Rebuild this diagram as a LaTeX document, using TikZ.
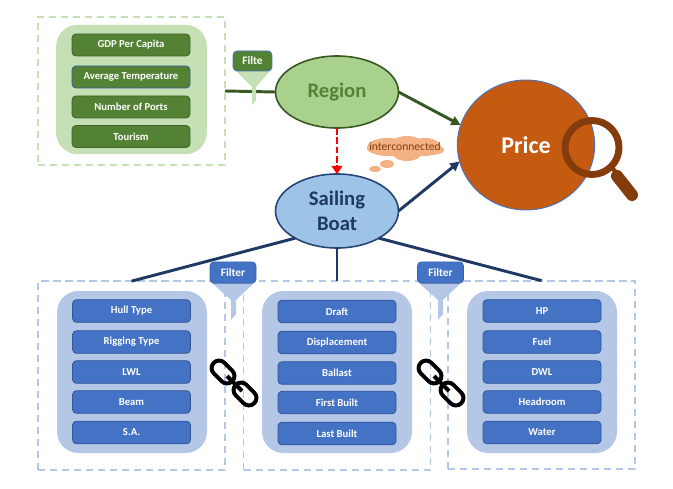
\documentclass[tikz,border=0pt]{standalone}
\usepackage{fontspec}
\setmainfont{Carlito}
\usetikzlibrary{shapes.geometric,shapes.symbols,arrows.meta}
\definecolor{gdark}{HTML}{548235}
\definecolor{gline}{HTML}{385723}
\definecolor{gpanel}{HTML}{C5E0B4}
\definecolor{gell}{HTML}{A9D18E}
\definecolor{bdark}{HTML}{4472C4}
\definecolor{bline}{HTML}{203864}
\definecolor{bpanel}{HTML}{B4C7E7}
\definecolor{bell}{HTML}{9DC3E6}
\definecolor{price}{HTML}{C55A11}
\definecolor{pdark}{HTML}{843C0C}
\definecolor{cloudc}{HTML}{F4B183}
\tikzset{
  x=0.75pt,y=-0.75pt,
  every node/.style={inner sep=0pt,outer sep=0pt,align=center},
  gbox/.style={draw=gpanel,line width=1.4pt,dash pattern=on 5.5pt off 3.5pt,minimum width=140.25pt,minimum height=111pt},
  bbox/.style={draw=bpanel,line width=1.4pt,dash pattern=on 5.5pt off 3.5pt,minimum width=140.25pt,minimum height=141.5pt},
  gpan/.style={fill=gpanel,rounded corners=16pt,minimum width=113pt,minimum height=97pt},
  bpan/.style={fill=bpanel,rounded corners=16pt,minimum width=112.5pt,minimum height=121.5pt},
  gitem/.style={fill=gdark,draw=gline!80!gdark,line width=.6pt,rounded corners=3pt,minimum width=88.5pt,minimum height=16.5pt,text=white,font=\bfseries\fontsize{8}{9}\selectfont},
  bitem/.style={fill=bdark,draw=bdark!75!black,line width=.6pt,rounded corners=3pt,minimum width=88.5pt,minimum height=17pt,text=white,font=\bfseries\fontsize{8}{9}\selectfont},
  gfilt/.style={fill=gdark,draw=bdark,line width=.7pt,rounded corners=3pt,minimum width=29pt,minimum height=15pt,text=white,font=\bfseries\fontsize{8.5}{9}\selectfont},
  bfilt/.style={fill=bdark,draw=bdark!85!black,line width=.5pt,rounded corners=3pt,minimum width=34.5pt,minimum height=16pt,text=white,font=\bfseries\fontsize{8.5}{9}\selectfont},
  gfun/.style={fill=gpanel,draw=none},
  bfun/.style={fill=bpanel,draw=none},
  ell/.style={ellipse,minimum width=92.25pt,line width=1.2pt},
  lnk/.style={draw=black,line width=3pt,rounded corners=5.5pt},
  gconn/.style={draw=gline,line width=2.2pt},
  bconn/.style={draw=bline,line width=2.2pt},
}
\begin{document}
\begin{tikzpicture}
\useasboundingbox (0,0) rectangle (673,488);
% dashed frames
\node[gbox] (gframe) at (131.5,91) {};
\node[bbox] (bframe1) at (131.5,375.5) {};
\node[bbox] (bframe2) at (337,375.5) {};
\node[bbox] (bframe3) at (541.5,375) {};
% panels
\node[gpan] (gpanel) at (131.5,89.5) {};
\node[bpan] (bpanel1) at (132,372) {};
\node[bpan] (bpanel2) at (337,372) {};
\node[bpan] (bpanel3) at (542,372) {};
% green items
\node[gitem] (g1) at (131,45) {GDP Per Capita};
\node[gitem,draw=bdark!80!black] (g2) at (131,77) {Average Temperature};
\node[gitem] (g3) at (131,107) {Number of Ports};
\node[gitem] (g4) at (131,136.5) {Tourism};
% blue items left
\node[bitem] (a1) at (131.5,311) {Hull Type};
\node[bitem] (a2) at (131.5,342) {Rigging Type};
\node[bitem] (a3) at (131.5,372) {LWL};
\node[bitem] (a4) at (131.5,402) {Beam};
\node[bitem] (a5) at (131.5,432.5) {S.A.};
% middle
\node[bitem] (b1) at (337,311.5) {Draft};
\node[bitem] (b2) at (337,342.5) {Displacement};
\node[bitem] (b3) at (337,373) {Ballast};
\node[bitem] (b4) at (337,402.5) {First Built};
\node[bitem] (b5) at (337,433.5) {Last Built};
% right
\node[bitem] (c1) at (542,311) {HP};
\node[bitem] (c2) at (542,342) {Fuel};
\node[bitem] (c3) at (542,372) {DWL};
\node[bitem] (c4) at (542,402) {Headroom};
\node[bitem] (c5) at (542,432.5) {Water};
% main ellipses
\node[ell,draw=gline,fill=gell,minimum height=54pt,text=gdark,font=\bfseries\fontsize{15.5}{18}\selectfont] (region) at (337,92) {\raisebox{-2.5pt}{Region}};
\node[ell,draw=bline!80!bdark,fill=bell,minimum height=55.5pt,text=bline,font=\bfseries\fontsize{15.5}{19}\selectfont] (boat) at (337,211) {Sailing\\Boat};
\node[ellipse,draw=bdark,line width=.7pt,fill=price,minimum width=103pt,minimum height=97.5pt,text=white,font=\bfseries\fontsize{18}{20}\selectfont] (price) at (526,145) {\raisebox{-1pt}{Price}};
% connectors
\draw[gconn] (gframe.east) -- (region.west);
\draw[gconn,-{Triangle[length=7pt,width=7pt]}] (region.east) -- (price.163);
\draw[bconn,-{Triangle[length=7pt,width=7pt]}] (boat.east) -- (price.194);
\draw[draw=red,line width=2.2pt,dash pattern=on 5pt off 2pt,-{Triangle[length=6pt,width=8pt]}] (region.south) -- (boat.north);
\coordinate (lt) at (bframe1.north);
\coordinate (mt) at (bframe2.north);
\coordinate (rt) at (bframe3.north);
\draw[bconn] (boat.213) -- (lt);
\draw[bconn] (boat.south) -- (mt);
\draw[bconn] (boat.327) -- (rt);
% green filter
\path[gfun] (236,71) -- (270,71) -- (256,87) -- (256,100) -- (252,105) -- (252,87) -- cycle;
\node[gfilt] (gf) at (252.5,61) {Filte};
% blue filters
\path[bfun] (212,283) -- (254,283) -- (236,300) -- (236,314) -- (231,320) -- (231,300) -- cycle;
\node[bfilt] (f1) at (233,272.5) {Filter};
\path[bfun] (419,283) -- (461,283) -- (443,300) -- (443,314) -- (438,320) -- (438,300) -- cycle;
\node[bfilt] (f2) at (440.5,272.5) {Filter};
% chains
\foreach \cx in {0,207}{
  \begin{scope}[shift={(\cx,0)}]
  \draw[lnk,rotate around={-45:(223,372)}] (210,364.5) rectangle (236,379.5);
  \draw[lnk,rotate around={-45:(245,394)}] (232,386.5) rectangle (258,401.5);
  \draw[black,line width=3pt] (227,376) -- (242,391);
  \end{scope}
}
% cloud
\fill[cloudc] (375,169) ellipse (6 and 3);
\fill[cloudc] (387,164) ellipse (7 and 4);
\fill[cloudc] (388,147) ellipse (21 and 9);
\fill[cloudc] (407,146) ellipse (17 and 10);
\fill[cloudc] (407,151) ellipse (16 and 10);
\fill[cloudc] (425,147) ellipse (16 and 9);
\fill[cloudc] (432,150) ellipse (12 and 5);
\fill[cloudc] (380,149) ellipse (13 and 5);
\node[text=pdark,font=\fontsize{8.7}{9}\selectfont] (note) at (405,147) {interconnected};
% magnifier
\draw[pdark,line width=5.2pt] (592,147.5) circle (27);
\draw[pdark,line width=3pt] (611,167) -- (618,174);
\draw[pdark,line width=9pt,line cap=round] (617,176) -- (632,195);
\end{tikzpicture}
\end{document}
